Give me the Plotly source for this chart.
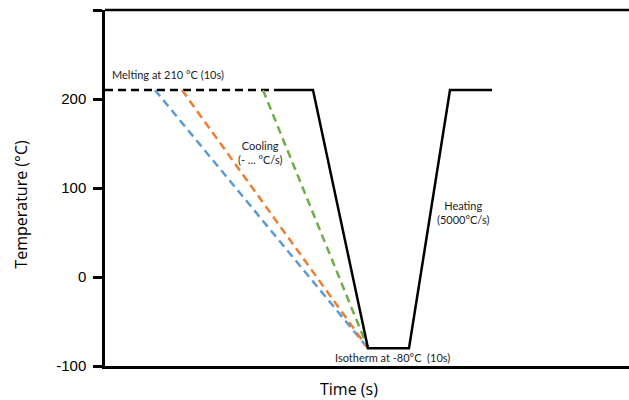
import plotly.graph_objects as go

# Data (time in arbitrary units, temperature in °C)
melt_t = [0, 35]
melt_T = [210, 210]

profile_t = [35, 41.6, 52.6, 60.8, 69, 77.4]
profile_T = [210, 210, -80, -80, 210, 210]

blue_t = [10, 52.6]
orange_t = [15.4, 52.6]
green_t = [31.6, 52.6]
cool_T = [210, -80]

ytick_vals = [-100, 0, 100, 200, 300]
ytick_text = ["-100", "0", "100", "200", ""]

fig = go.Figure()
dash = "8px,5px"
fig.add_trace(go.Scatter(x=melt_t, y=melt_T, mode="lines",
                         line=dict(color="black", width=2.5, dash=dash)))
fig.add_trace(go.Scatter(x=blue_t, y=cool_T, mode="lines",
                         line=dict(color="#5B9BD5", width=2.5, dash=dash)))
fig.add_trace(go.Scatter(x=orange_t, y=cool_T, mode="lines",
                         line=dict(color="#ED7D31", width=2.5, dash=dash)))
fig.add_trace(go.Scatter(x=green_t, y=cool_T, mode="lines",
                         line=dict(color="#70AD47", width=2.5, dash=dash)))
fig.add_trace(go.Scatter(x=profile_t, y=profile_T, mode="lines",
                         line=dict(color="black", width=2.5)))

afont = dict(family="Lato, Open Sans, sans-serif", size=11, color="#222")
fig.add_annotation(x=1, y=227, text="Melting at 210 °C (10s)", showarrow=False,
                   xanchor="left", font=afont)
fig.add_annotation(x=31, y=140, text="Cooling<br>(- ... °C/s)", showarrow=False,
                   font=afont)
fig.add_annotation(x=71.5, y=73, text="Heating<br>(5000°C/s)", showarrow=False,
                   font=afont)
fig.add_annotation(x=45.6, y=-91, text="Isotherm at -80°C  (10s)", showarrow=False,
                   xanchor="left", font=afont)

tfont = dict(family="Liberation Sans, Arial, sans-serif", size=15, color="black")
title_font = dict(family="Open Sans, sans-serif", size=16, color="black")
fig.add_annotation(xref="paper", yref="paper", x=0.466, y=-0.065,
                   xanchor="center", yanchor="middle",
                   text="Time (s)", showarrow=False, font=title_font)
fig.add_annotation(xref="paper", yref="paper", x=-0.161, y=0.455,
                   xanchor="center", yanchor="middle",
                   text="Temperature (°C)", showarrow=False, textangle=-90,
                   font=title_font)
# top frame line
fig.add_shape(type="line", xref="paper", yref="paper", x0=0, x1=1, y0=1, y1=1,
              line=dict(color="black", width=2.5))

fig.update_layout(
    width=629, height=400,
    margin=dict(l=105, r=0, t=10, b=34),
    paper_bgcolor="white", plot_bgcolor="white",
    showlegend=False,
    font=tfont,
    xaxis=dict(range=[0, 104.8], showline=True, linecolor="black", linewidth=2.5,
               showticklabels=False, ticks="", showgrid=False,
               zeroline=False),
    yaxis=dict(range=[-100, 300], showline=True, linecolor="black", linewidth=2.5,
               tickvals=ytick_vals, ticktext=ytick_text, ticks="outside",
               ticklen=9, tickwidth=2.5, tickcolor="black", showgrid=False,
               zeroline=False, tickfont=tfont, ticklabelstandoff=4),
)

fig.write_html("out.html")
